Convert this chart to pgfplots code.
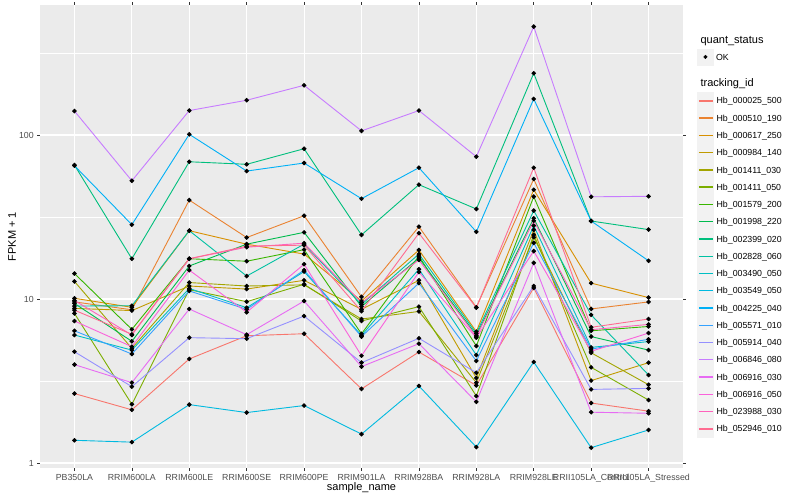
\documentclass[border=0pt]{standalone}
\usepackage{fontspec}
\setmainfont{Liberation Sans}
\usepackage{pgfplots}
\pgfplotsset{compat=1.18}

% ggplot2 hue palette, 20 levels
\definecolor{c1}{HTML}{F8766D}
\definecolor{c2}{HTML}{EA8331}
\definecolor{c3}{HTML}{D89000}
\definecolor{c4}{HTML}{C09B00}
\definecolor{c5}{HTML}{A3A500}
\definecolor{c6}{HTML}{7CAE00}
\definecolor{c7}{HTML}{39B600}
\definecolor{c8}{HTML}{00BB4E}
\definecolor{c9}{HTML}{00BF7D}
\definecolor{c10}{HTML}{00C1A3}
\definecolor{c11}{HTML}{00BFC4}
\definecolor{c12}{HTML}{00BAE0}
\definecolor{c13}{HTML}{00B0F6}
\definecolor{c14}{HTML}{35A2FF}
\definecolor{c15}{HTML}{9590FF}
\definecolor{c16}{HTML}{C77CFF}
\definecolor{c17}{HTML}{E76BF3}
\definecolor{c18}{HTML}{FA62DB}
\definecolor{c19}{HTML}{FF62BC}
\definecolor{c20}{HTML}{FF6C91}
\definecolor{panel}{HTML}{EBEBEB}
\definecolor{legbg}{HTML}{F2F2F2}
\definecolor{ticktext}{HTML}{4D4D4D}

\newcommand{\ticksize}{\fontsize{8.8}{10}\selectfont}
\newcommand{\titlesize}{\fontsize{11}{13}\selectfont}

\begin{document}
\begin{tikzpicture}

\begin{axis}[
  at={(40pt,32pt)}, anchor=south west,
  width=643pt, height=463pt, scale only axis,
  set layers, mark layer=axis foreground,
  xmin=0.4, xmax=11.6,
  ymode=log, ymin=0.932, ymax=621,
  xtick={1,...,11},
  xticklabels={PB350LA,RRIM600LA,RRIM600LE,RRIM600SE,RRIM600PE,RRIM901LA,RRIM928BA,RRIM928LA,RRIM928LE,RRII105LA\_Control,RRII105LA\_Stressed},
  ytick={1,10,100}, yticklabels={1,10,100},
  minor ytick={3.1623,31.623,316.23},
  xmajorgrids, ymajorgrids, yminorgrids,
  major grid style={white, line width=1.07pt},
  minor grid style={white, line width=0.53pt},
  axis line style={draw=none},
  axis background/.style={fill=panel},
  tick align=outside, major tick length=2.75pt, minor tick length=0pt,
  tick style={color=black!80, line width=0.5pt},
  ticklabel style={font=\ticksize, text=ticktext},
  /pgf/number format/assume math mode=true,
  every axis plot/.append style={line width=0.9pt, mark=*, mark size=1.8pt,
    mark options={draw=black, fill=black, solid}},
  legend style={at={(axis description cs:1.0218,0.812)}, anchor=north west,
    draw=none, fill=none, inner sep=0pt, row sep=0pt, column sep=2.4pt,
    font=\ticksize, cells={anchor=west},
    nodes={inner sep=0pt, text height=6.2pt, text depth=0pt}},
  legend image code/.code={%
    \fill[legbg] (0.6pt,-8.18pt) rectangle (16.7pt,8.18pt);
    \draw[line width=1.4pt] (1.7pt,0pt) -- (15.6pt,0pt);
  },
]

% Hb_000025_500
\addplot[c1] coordinates {(1,2.65) (2,2.11) (3,4.31) (4,5.97) (5,6.14) (6,2.83) (7,4.75) (8,2.97) (9,11.7) (10,2.32) (11,2.07)};
\addlegendentry{Hb\_000025\_500}
% Hb_000510_190
\addplot[c2] coordinates {(1,9.6) (2,8.6) (3,40.1) (4,23.7) (5,32.2) (6,10.3) (7,27.6) (8,8.9) (9,53.9) (10,8.7) (11,9.6)};
\addlegendentry{Hb\_000510\_190}
% Hb_000617_250
\addplot[c3] coordinates {(1,10.1) (2,8.9) (3,26.1) (4,21.6) (5,18.8) (6,9.72) (7,19.9) (8,6.32) (9,46.4) (10,12.5) (11,10.2)};
\addlegendentry{Hb\_000617\_250}
% Hb_000984_140
\addplot[c4] coordinates {(1,8.77) (2,8.5) (3,12.0) (4,11.5) (5,13.0) (6,8.65) (7,13.0) (8,3.3) (9,26.4) (10,3.18) (11,4.09)};
\addlegendentry{Hb\_000984\_140}
% Hb_001411_030
\addplot[c5] coordinates {(1,12.8) (2,5.0) (3,12.6) (4,12.0) (5,12.2) (6,7.55) (7,8.4) (8,3.09) (9,23.8) (10,4.7) (11,3.0)};
\addlegendentry{Hb\_001411\_030}
% Hb_001411_050
\addplot[c6] coordinates {(1,8.17) (2,2.28) (3,11.4) (4,9.63) (5,12.3) (6,7.34) (7,8.98) (8,2.56) (9,24.6) (10,3.83) (11,2.42)};
\addlegendentry{Hb\_001411\_050}
% Hb_001579_200
\addplot[c7] coordinates {(1,14.3) (2,6.53) (3,17.6) (4,17.0) (5,20.0) (6,6.13) (7,18.3) (8,5.17) (9,42.1) (10,6.4) (11,6.8)};
\addlegendentry{Hb\_001579\_200}
% Hb_001998_220
\addplot[c8] coordinates {(1,9.4) (2,5.52) (3,15.9) (4,21.6) (5,25.5) (6,9.0) (7,17.8) (8,6.0) (9,31.1) (10,5.9) (11,4.88)};
\addlegendentry{Hb\_001998\_220}
% Hb_002399_020
\addplot[c9] coordinates {(1,65.6) (2,17.6) (3,68.7) (4,66.3) (5,82.5) (6,24.6) (7,49.8) (8,35.4) (9,238) (10,29.9) (11,26.5)};
\addlegendentry{Hb\_002399\_020}
% Hb_002828_060
\addplot[c10] coordinates {(1,9.06) (2,9.1) (3,26.1) (4,13.8) (5,21.6) (6,9.27) (7,18.8) (8,6.17) (9,34.6) (10,8.0) (11,3.44)};
\addlegendentry{Hb\_002828\_060}
% Hb_003490_050
\addplot[c11] coordinates {(1,6.03) (2,4.88) (3,11.6) (4,8.85) (5,14.7) (6,6.0) (7,15.2) (8,4.55) (9,28) (10,5.07) (11,5.5)};
\addlegendentry{Hb\_003490\_050}
% Hb_003549_050
\addplot[c12] coordinates {(1,1.375) (2,1.34) (3,2.27) (4,2.03) (5,2.24) (6,1.50) (7,2.95) (8,1.25) (9,4.13) (10,1.24) (11,1.59)};
\addlegendentry{Hb\_003549\_050}
% Hb_004225_040
\addplot[c13] coordinates {(1,65) (2,28.4) (3,101) (4,60.3) (5,67.5) (6,40.9) (7,63.2) (8,25.7) (9,166) (10,29.9) (11,17.1)};
\addlegendentry{Hb\_004225\_040}
% Hb_005571_010
\addplot[c14] coordinates {(1,6.4) (2,4.62) (3,11.2) (4,8.65) (5,15.0) (6,5.9) (7,12.5) (8,4.19) (9,22) (10,4.95) (11,5.68)};
\addlegendentry{Hb\_005571\_010}
% Hb_005914_040
\addplot[c15] coordinates {(1,4.77) (2,2.92) (3,5.81) (4,5.73) (5,7.87) (6,4.09) (7,5.76) (8,3.55) (9,12.0) (10,2.81) (11,2.85)};
\addlegendentry{Hb\_005914\_040}
% Hb_006846_080
\addplot[c16] coordinates {(1,140) (2,52.6) (3,141) (4,163) (5,201) (6,106) (7,141) (8,73.8) (9,458) (10,42) (11,42.3)};
\addlegendentry{Hb\_006846\_080}
% Hb_006916_030
\addplot[c17] coordinates {(1,3.98) (2,3.09) (3,8.69) (4,6.06) (5,9.72) (6,3.87) (7,5.34) (8,2.36) (9,16.6) (10,2.04) (11,2.01)};
\addlegendentry{Hb\_006916\_030}
% Hb_006916_050
\addplot[c18] coordinates {(1,7.34) (2,5.12) (3,15.0) (4,8.3) (5,16.3) (6,4.51) (7,14.6) (8,5.81) (9,19.6) (10,4.8) (11,6.2)};
\addlegendentry{Hb\_006916\_050}
% Hb_023988_030
\addplot[c19] coordinates {(1,9.8) (2,6.03) (3,17.6) (4,20.7) (5,21.9) (6,9.5) (7,17.3) (8,5.89) (9,30.0) (10,6.5) (11,7.0)};
\addlegendentry{Hb\_023988\_030}
% Hb_052946_010
\addplot[c20] coordinates {(1,8.55) (2,6.09) (3,17.6) (4,21.0) (5,21.3) (6,8.43) (7,25.2) (8,8.85) (9,63.2) (10,6.72) (11,7.55)};
\addlegendentry{Hb\_052946\_010}
\end{axis}

% second (hidden) axis only for the quant_status legend
\begin{axis}[
  at={(40pt,32pt)}, anchor=south west,
  width=643pt, height=463pt, scale only axis, hide axis,
  xmin=0, xmax=1, ymin=0, ymax=1,
  legend style={at={(axis description cs:1.0218,0.9064)}, anchor=north west,
    draw=none, fill=none, inner sep=0pt, row sep=0pt, column sep=2.4pt,
    font=\ticksize, cells={anchor=west},
    nodes={inner sep=0pt, text height=6.2pt, text depth=0pt}},
]
\addplot[draw=none, mark=none, forget plot] coordinates {(0,0) (1,1)};
\addlegendimage{legend image code/.code={%
    \fill[legbg] (0.6pt,-8.18pt) rectangle (16.7pt,8.18pt);
    \fill[black] (8.65pt,0pt) circle (1.8pt);
  }}
\addlegendentry{OK}
\end{axis}

\node[anchor=base west, font=\titlesize] at (697pt,456.5pt) {quant\_status};
\node[anchor=base west, font=\titlesize] at (697pt,413.3pt) {tracking\_id};
\node[anchor=base, font=\titlesize] at (361.5pt,9pt) {sample\_name};
\node[anchor=base, rotate=90, font=\titlesize] at (16pt,263.5pt) {FPKM + 1};

\pgfresetboundingbox
\path[use as bounding box] (0pt,0pt) rectangle (800pt,500pt);
\end{tikzpicture}
\end{document}
